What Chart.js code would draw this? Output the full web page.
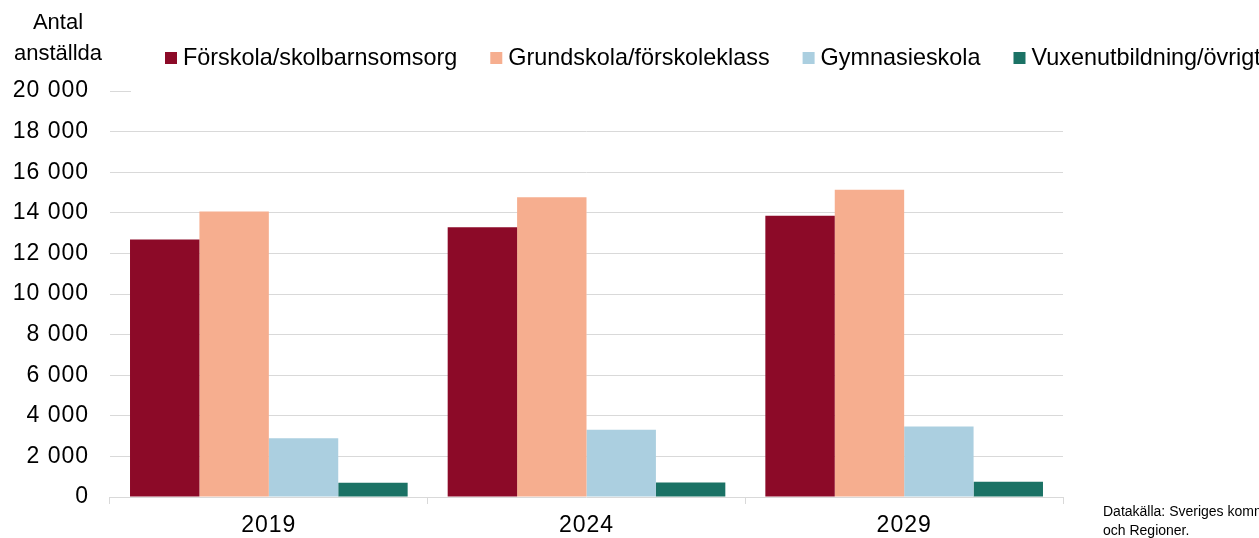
<!DOCTYPE html>
<html lang="sv">
<head>
<meta charset="UTF-8">
<title>Antal anställda</title>
<script src="https://cdn.jsdelivr.net/npm/chart.js"></script>
<style>
  html, body { margin: 0; padding: 0; background: #fff; }
  #wrap { width: 1259px; height: 538px; position: relative; }
</style>
</head>
<body>
<div id="wrap"><canvas id="myChart"></canvas></div>
<script>
// data
const years = ['2019', '2024', '2029'];
const forskola = [12680, 13290, 13860];
const grundskola = [14060, 14760, 15140];
const gymnasieskola = [2900, 3310, 3470];
const vuxen = [700, 710, 750];
const seriesNames = ['Förskola/skolbarnsomsorg', 'Grundskola/förskoleklass', 'Gymnasieskola', 'Vuxenutbildning/övrigt'];
const seriesColors = ['#8C0A28', '#F6AE8F', '#ABCFE0', '#1B7265'];
const yTicks = [0, 2000, 4000, 6000, 8000, 10000, 12000, 14000, 16000, 18000, 20000];

const FONT = '"Liberation Sans", Arial, sans-serif';
const GRID = '#D9D9D9';

function fmt(v) {
    return String(v).replace(/\B(?=(\d{3})+(?!\d))/g, ' ');
}

// legend, axis title, short top gridline and source note
const extras = {
    id: 'extras',
    beforeDraw(chart) {
        // numbers in the original are wider, spread the tick digits a little
        chart.ctx.letterSpacing = '1px';
    },
    afterDraw(chart) {
        const ctx = chart.ctx;
        const y = chart.scales.y;
        const area = chart.chartArea;
        ctx.save();
        ctx.letterSpacing = '0px';

        // short top gridline (legend covers the rest)
        const yTop = Math.round(y.getPixelForValue(20000)) + 0.5;
        ctx.strokeStyle = GRID;
        ctx.lineWidth = 1;
        ctx.beginPath();
        ctx.moveTo(area.left, yTop);
        ctx.lineTo(area.left + 21, yTop);
        ctx.stroke();

        // axis title
        ctx.fillStyle = '#000';
        ctx.font = '22px ' + FONT;
        ctx.textAlign = 'center';
        ctx.textBaseline = 'middle';
        ctx.fillText('Antal', 58, 23);
        ctx.fillText('anställda', 58, 54);

        // legend
        ctx.font = '23.4px ' + FONT;
        ctx.textAlign = 'left';
        let x = 165;
        chart.data.datasets.forEach(ds => {
            ctx.fillStyle = ds.backgroundColor;
            ctx.fillRect(x, 52, 12, 12);
            ctx.fillStyle = '#000';
            ctx.fillText(ds.label, x + 18, 59);
            x += 18 + ctx.measureText(ds.label).width + 33;
        });

        // source
        ctx.font = '14px ' + FONT;
        ctx.fillText('Datakälla: Sveriges kommuner', 1103, 512);
        ctx.fillText('och Regioner.', 1103, 531);
        ctx.restore();
    }
};

const ctx = document.getElementById('myChart').getContext('2d');
const myChart = new Chart(ctx, {
    type: 'bar',
    data: {
        labels: years,
        datasets: [forskola, grundskola, gymnasieskola, vuxen].map((d, i) => ({
            label: seriesNames[i],
            data: d,
            backgroundColor: seriesColors[i],
            borderWidth: 0,
            categoryPercentage: 0.874,
            barPercentage: 1.0
        }))
    },
    options: {
        responsive: true,
        maintainAspectRatio: false,
        animation: false,
        layout: { padding: { top: 91, right: 196, left: 0, bottom: 0 } },
        plugins: {
            legend: { display: false },
            tooltip: { enabled: false }
        },
        scales: {
            x: {
                offset: true,
                grid: {
                    offset: true,
                    drawOnChartArea: false,
                    drawTicks: true,
                    tickLength: 7,
                    color: GRID
                },
                border: { display: false },
                ticks: {
                    color: '#000',
                    font: { family: FONT, size: 23 },
                    padding: 8
                },
                afterFit(scale) { scale.height = 41; }
            },
            y: {
                min: 0,
                max: 20000,
                afterBuildTicks(scale) { scale.ticks = yTicks.map(v => ({ value: v })); },
                grid: {
                    drawTicks: false,
                    color: c => c.tick && c.tick.value === 20000 ? 'rgba(0,0,0,0)' : GRID
                },
                border: { display: false },
                ticks: {
                    color: '#000',
                    font: { family: FONT, size: 23 },
                    padding: 21,
                    callback: v => fmt(v)
                },
                afterFit(scale) { scale.width = 110; }
            }
        }
    },
    plugins: [extras]
});
</script>
</body>
</html>
